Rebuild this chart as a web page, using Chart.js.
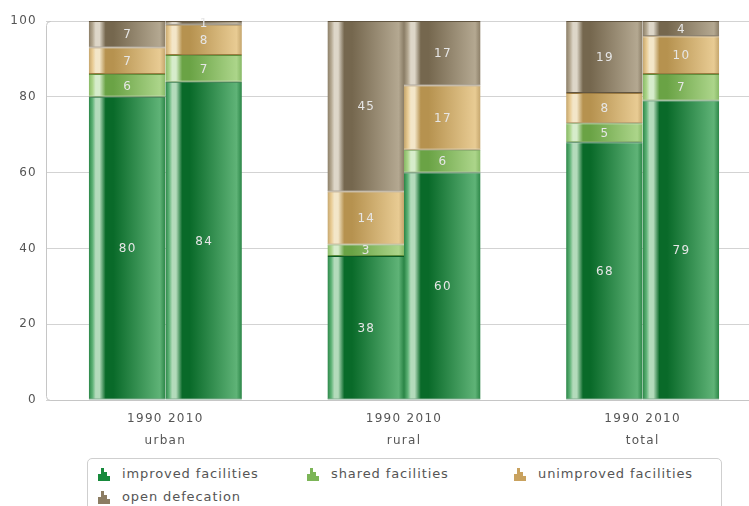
<!DOCTYPE html>
<html lang="en">
<head>
  <meta charset="UTF-8">
  <title>Sanitation 1990 / 2010</title>
  <script src="https://cdn.jsdelivr.net/npm/chart.js"></script>
  <style>
    html, body { margin: 0; padding: 0; background: #fff; }
    body { width: 749px; height: 506px; overflow: hidden; position: relative; font-family: "DejaVu Sans", sans-serif; }
    #wrap { position: absolute; left: 0; top: 0; width: 770px; height: 455px; }
    #legend { position: absolute; left: 87px; top: 458px; width: 633px; height: 70px; border: 1px solid #cfcfcf; border-radius: 5px; }
    .item { position: absolute; font-size: 13px; color: #555; white-space: nowrap; letter-spacing: 0.9px; }
    .item svg { position: absolute; left: -24px; top: 2px; }
  </style>
</head>
<body>
  <div id="wrap"><canvas id="chart" width="770" height="455"></canvas></div>
  <div id="legend"></div>

  <script>
    // data
    const groups = ['urban', 'rural', 'total'];
    const years = ['1990', '2010'];
    const seriesNames = ['improved facilities', 'shared facilities', 'unimproved facilities', 'open defecation'];
    const improved1990 = [80, 38, 68];
    const improved2010 = [84, 60, 79];
    const shared1990 = [6, 3, 5];
    const shared2010 = [7, 6, 7];
    const unimproved1990 = [7, 14, 8];
    const unimproved2010 = [8, 17, 10];
    const open1990 = [7, 45, 19];
    const open2010 = [1, 17, 4];
    const yTicks = [0, 20, 40, 60, 80, 100];

    const values = [
      [improved1990, improved2010],
      [shared1990, shared2010],
      [unimproved1990, unimproved2010],
      [open1990, open2010]
    ];

    // colours for the cylinder look of each series
    const palettes = [
      { edge: '#2a8546', hi: '#b3dbbb', dark: '#096a29', light: '#5fb377', border: '#0a5a24', icon: '#178a3c' },
      { edge: '#86b865', hi: '#d6eccb', dark: '#6aa345', light: '#acd58a', border: '#5f8f3d', icon: '#7cb557' },
      { edge: '#c4a56c', hi: '#f3e6c8', dark: '#b6924f', light: '#e8cb93', border: '#9c7b41', icon: '#c9a25f' },
      { edge: '#8a7d66', hi: '#ddd6c8', dark: '#75674e', light: '#b4a891', border: '#615541', icon: '#8c7d63' }
    ];

    const pairShare = 0.6415;

    function barFill(ctx, pal) {
      const chart = ctx.chart;
      const xs = chart.scales.x;
      if (ctx.dataIndex === undefined || !xs || !chart.chartArea) return pal.dark;
      const catW = xs.width / groups.length;
      const w = catW * pairShare / 2;
      const c = xs.getPixelForValue(ctx.dataIndex);
      const x0 = ctx.dataset.stack === years[0] ? c - w : c;
      const g = chart.ctx.createLinearGradient(x0, 0, x0 + w, 0);
      g.addColorStop(0, pal.edge);
      g.addColorStop(0.05, pal.light);
      g.addColorStop(0.09, pal.hi);
      g.addColorStop(0.14, pal.hi);
      g.addColorStop(0.22, pal.dark);
      g.addColorStop(0.32, pal.dark);
      g.addColorStop(0.93, pal.light);
      g.addColorStop(1, pal.edge);
      return g;
    }

    const datasets = [];
    seriesNames.forEach((name, s) => {
      years.forEach((yr, k) => {
        datasets.push({
          label: name,
          stack: yr,
          data: values[s][k],
          backgroundColor: ctx => barFill(ctx, palettes[s]),
          borderColor: palettes[s].border,
          borderWidth: { top: 1, bottom: 1, left: 0, right: 0 },
          borderSkipped: false
        });
      });
    });

    // the original text is drawn with wide spacing
    const spacing = {
      id: 'spacing',
      beforeDraw(chart) { chart.ctx.letterSpacing = '1.3px'; }
    };

    // numbers inside the segments
    const valueLabels = {
      id: 'valueLabels',
      afterDatasetsDraw(chart) {
        const c = chart.ctx;
        c.save();
        c.font = '12px "DejaVu Sans"';
        c.letterSpacing = '1.3px';
        c.fillStyle = '#e6e6e6';
        c.textAlign = 'center';
        c.textBaseline = 'middle';
        chart.data.datasets.forEach((ds, i) => {
          chart.getDatasetMeta(i).data.forEach((el, j) => {
            const v = ds.data[j];
            if (!v) return;
            c.fillText(String(v), el.x + 0.6, (el.y + el.base) / 2 + 1);
          });
        });
        c.restore();
      }
    };

    // left edge of the plot with rounded corner
    const plotFrame = {
      id: 'plotFrame',
      beforeDatasetsDraw(chart) {
        const a = chart.chartArea, c = chart.ctx, r = 4;
        c.save();
        c.strokeStyle = '#c6c6c6';
        c.lineWidth = 1;
        c.beginPath();
        c.moveTo(a.left + r, a.top + 0.5);
        c.arcTo(a.left + 0.5, a.top + 0.5, a.left + 0.5, a.top + r, r);
        c.lineTo(a.left + 0.5, a.bottom - r);
        c.arcTo(a.left + 0.5, a.bottom + 0.5, a.left + r, a.bottom + 0.5, r);
        c.lineTo(a.right, a.bottom + 0.5);
        c.stroke();
        c.restore();
      }
    };

    new Chart(document.getElementById('chart'), {
      type: 'bar',
      data: { labels: groups, datasets: datasets },
      options: {
        responsive: false,
        animation: false,
        categoryPercentage: pairShare,
        barPercentage: 1,
        layout: { padding: { top: 21, right: 8, left: 0, bottom: 0 } },
        plugins: { legend: { display: false }, tooltip: { enabled: false } },
        scales: {
          x: {
            stacked: true,
            grid: { display: false },
            border: { display: false },
            afterFit: s => { s.height = 55; },
            ticks: {
              color: '#555',
              padding: 0,
              font: { family: 'DejaVu Sans', size: 12, lineHeight: 1.85 },
              callback: (v, i) => [years.join(' '), groups[i]]
            }
          },
          y: {
            stacked: true,
            min: 0,
            max: 100,
            afterFit: s => { s.width = 46; },
            afterBuildTicks: s => { s.ticks = yTicks.map(v => ({ value: v })); },
            border: { display: false },
            grid: { color: '#d3d3d3', drawTicks: false },
            ticks: {
              color: '#555',
              padding: 9,
              font: { family: 'DejaVu Sans', size: 12 }
            }
          }
        }
      },
      plugins: [spacing, plotFrame, valueLabels]
    });

    // html legend in a rounded box
    const legendPos = [[34, 7], [243, 7], [450, 7], [34, 30]];
    const legend = document.getElementById('legend');
    seriesNames.forEach((name, s) => {
      const d = document.createElement('div');
      d.className = 'item';
      d.style.left = legendPos[s][0] + 'px';
      d.style.top = legendPos[s][1] + 'px';
      const col = palettes[s].icon;
      d.innerHTML = '<svg width="12" height="13" viewBox="0 0 12 13">' +
        '<rect x="0" y="6" width="3" height="7" fill="' + col + '"/>' +
        '<rect x="3" y="0" width="3" height="13" fill="' + col + '"/>' +
        '<rect x="6" y="4" width="3" height="9" fill="' + col + '"/>' +
        '<rect x="9" y="8" width="3" height="5" fill="' + col + '"/>' +
        '</svg>' + name;
      legend.appendChild(d);
    });
  </script>
</body>
</html>
